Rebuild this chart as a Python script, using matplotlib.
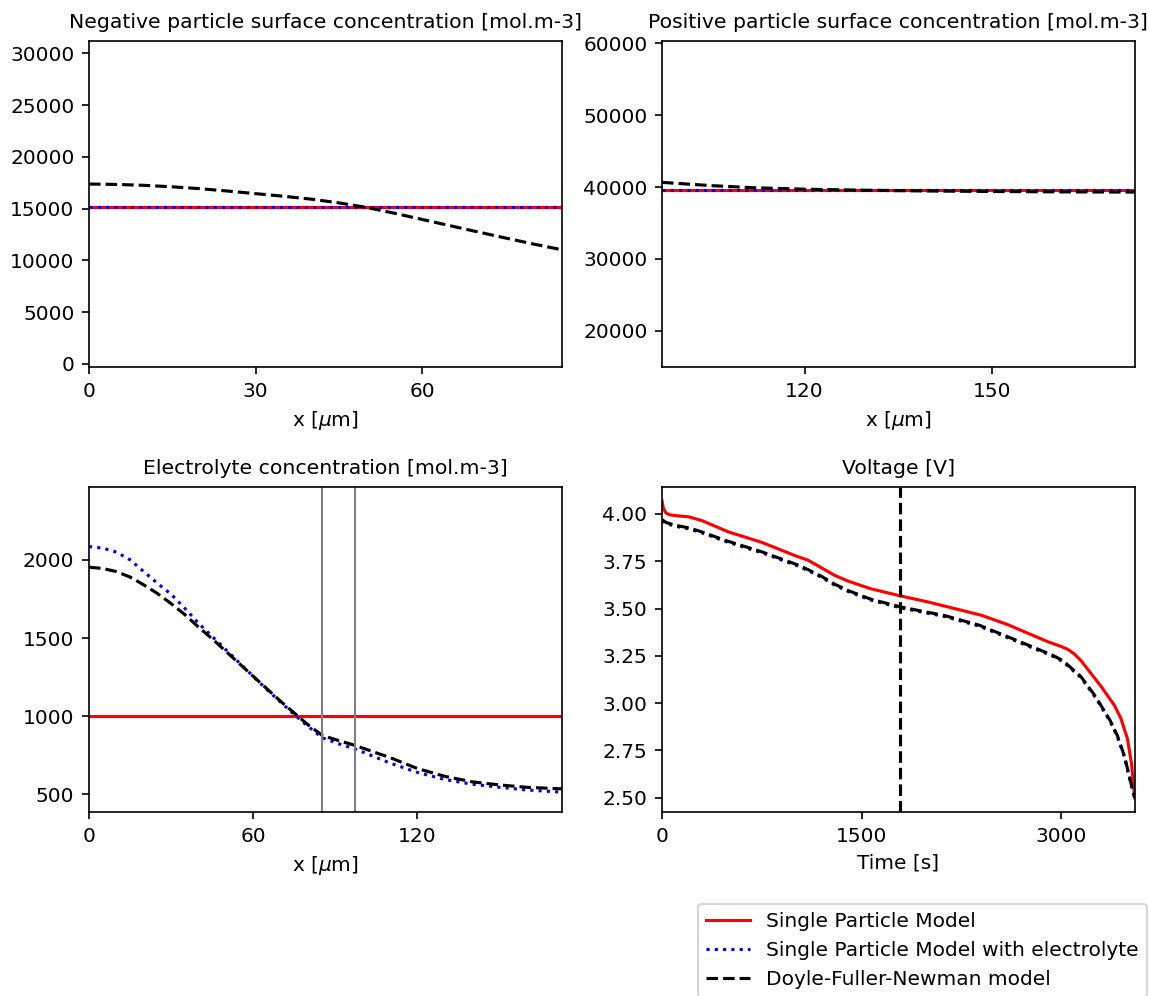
import numpy as np
import matplotlib
matplotlib.use("Agg")
import matplotlib.pyplot as plt

plt.rcParams["font.size"] = 9.7

# electrode geometry [um]
L_n = 85.2
L_s = 12.0
L_total = 172.8

# negative particle surface concentration [mol.m-3]
neg_spm = 15150
neg_spme = 15150
neg_x_dfn = [0, 5, 10, 15, 20, 25, 30, 35, 40, 45, 50, 55, 60, 65, 70, 75,
             80, 85.2]
neg_c_dfn = [17380, 17340, 17250, 17110, 16930, 16700, 16450, 16200, 15920,
             15560, 15120, 14560, 13960, 13360, 12760, 12170, 11590, 11030]

# positive particle surface concentration [mol.m-3]
pos_spm = 39650
pos_spme = 39620
pos_x_dfn = [97.2, 105, 112, 120, 130, 140, 150, 160, 172.8]
pos_c_dfn = [40650, 40200, 39900, 39700, 39550, 39450, 39380, 39330, 39300]

# electrolyte concentration [mol.m-3]
elec_spm = 1000
elec_x = [0, 5, 10, 15, 20, 25, 30, 35, 40, 45, 50, 55, 60, 65, 70, 75, 80,
          85.2, 91, 97.2, 105, 110, 120, 130, 140, 150, 160, 172.8]
elec_spme = [2085, 2075, 2050, 2000, 1925, 1850, 1780, 1690, 1595, 1510, 1425,
             1340, 1255, 1170, 1090, 1010, 935, 862, 825, 790, 735, 700, 640,
             595, 565, 545, 528, 514]
elec_dfn = [1953, 1945, 1925, 1890, 1840, 1785, 1720, 1650, 1570, 1495, 1415,
            1335, 1255, 1175, 1095, 1020, 945, 877, 845, 813, 765, 735, 665,
            615, 580, 560, 545, 535]

# terminal voltage [V]
t_spm = [0, 10, 30, 60, 120, 200, 300, 400, 500, 750, 1000, 1100, 1200, 1300,
         1400, 1568, 1792, 2000, 2200, 2400, 2600, 2800, 2900, 3000, 3050,
         3100, 3150, 3200, 3300, 3400, 3450, 3500, 3530, 3554]
v_spm = [4.07, 4.03, 4.005, 3.995, 3.99, 3.985, 3.965, 3.935, 3.905, 3.85,
         3.78, 3.755, 3.715, 3.675, 3.645, 3.605, 3.567, 3.535, 3.50, 3.465,
         3.415, 3.355, 3.325, 3.30, 3.285, 3.26, 3.225, 3.18, 3.09, 2.99,
         2.92, 2.81, 2.68, 2.50]
t_dfn = [0, 30, 100, 205, 300, 477, 750, 1023, 1100, 1200, 1295, 1400, 1568,
         1792, 2000, 2114, 2386, 2659, 2932, 3014, 3150, 3259, 3368, 3423,
         3477, 3518, 3554]
v_dfn = [3.97, 3.955, 3.94, 3.926, 3.905, 3.86, 3.80, 3.73, 3.705, 3.67,
         3.63, 3.595, 3.55, 3.509, 3.48, 3.465, 3.412, 3.334, 3.255, 3.225,
         3.14, 3.036, 2.91, 2.83, 2.72, 2.60, 2.50]
v_spme = [3.965, 3.95, 3.935, 3.921, 3.90, 3.855, 3.795, 3.725, 3.70, 3.665,
          3.625, 3.59, 3.545, 3.504, 3.475, 3.46, 3.407, 3.329, 3.25, 3.22,
          3.135, 3.03, 2.905, 2.825, 2.715, 2.595, 2.50]
t_now = 1792

labels = ["Single Particle Model", "Single Particle Model with electrolyte",
          "Doyle-Fuller-Newman model"]

fig = plt.figure(figsize=(1149 / 150, 996 / 150), dpi=150)
W, H = 1149, 996


def add_ax(l, r, t, b):
    return fig.add_axes([l / W, 1 - b / H, (r - l) / W, (b - t) / H])


ax1 = add_ax(89, 562, 40.7, 367)
ax2 = add_ax(662, 1134.7, 40.7, 367)
ax3 = add_ax(89, 562, 486.7, 812)
ax4 = add_ax(662, 1134.7, 486.7, 812)

title_size = 9.8

# negative particle
ax1.plot([0, L_n], [neg_spm, neg_spm], "r-", lw=1.5)
ax1.plot([0, L_n], [neg_spme, neg_spme], "b:", lw=1.5)
ax1.plot(neg_x_dfn, neg_c_dfn, "k--", lw=1.5)
ax1.set_xlim(0, L_n)
ax1.set_ylim(-290, 31220)
ax1.set_xticks([0, 30, 60])
ax1.set_xlabel(r"x [$\mu$m]")
ax1.set_title("Negative particle surface concentration [mol.m-3]",
              fontsize=title_size)

# positive particle
x_pos = [L_n + L_s, L_total]
ax2.plot(x_pos, [pos_spm, pos_spm], "r-", lw=1.5)
ax2.plot(x_pos, [pos_spme, pos_spme], "b:", lw=1.5)
ax2.plot(pos_x_dfn, pos_c_dfn, "k--", lw=1.5)
ax2.set_xlim(L_n + L_s, L_total)
ax2.set_ylim(14950, 60370)
ax2.set_xticks([120, 150])
ax2.set_xlabel(r"x [$\mu$m]")
ax2.set_title("Positive particle surface concentration [mol.m-3]",
              fontsize=title_size)

# electrolyte
ax3.plot([0, L_total], [elec_spm, elec_spm], "r-", lw=1.5)
ax3.plot(elec_x, elec_spme, "b:", lw=1.5)
ax3.plot(elec_x, elec_dfn, "k--", lw=1.5)
ax3.axvline(L_n, color="0.5", lw=1)
ax3.axvline(L_n + L_s, color="0.5", lw=1)
ax3.set_xlim(0, L_total)
ax3.set_ylim(387, 2468)
ax3.set_xticks([0, 60, 120])
ax3.set_xlabel(r"x [$\mu$m]")
ax3.set_title("Electrolyte concentration [mol.m-3]", fontsize=title_size)

# voltage
ax4.plot(t_spm, v_spm, "r-", lw=1.5)
ax4.plot(t_dfn, v_spme, "b:", lw=1.5)
ax4.plot(t_dfn, v_dfn, "k--", lw=1.5)
ax4.axvline(t_now, color="k", ls="--", lw=1.5)
ax4.set_xlim(0, 3554)
ax4.set_ylim(2.425, 4.144)
ax4.set_xticks([0, 1500, 3000])
ax4.set_xlabel("Time [s]")
ax4.set_title("Voltage [V]", fontsize=title_size)

fig.legend(ax4.lines[:3], labels, loc="upper right",
           bbox_to_anchor=(1147 / W, 1 - 904 / H), borderaxespad=0,
           handlelength=2.2)

fig.savefig("out.png", dpi=150)
